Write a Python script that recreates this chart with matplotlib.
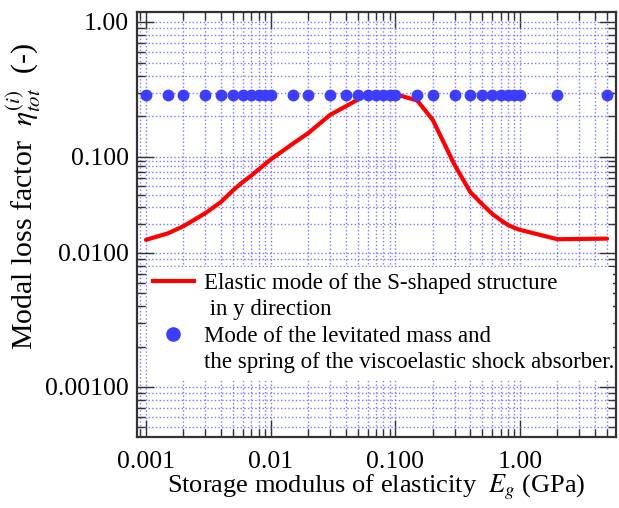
import numpy as np
import matplotlib
matplotlib.use("Agg")
import matplotlib.pyplot as plt
from matplotlib.ticker import LogLocator, NullFormatter, FixedLocator, FixedFormatter
from matplotlib.lines import Line2D

# ---------------- data ----------------
modulus_gpa = [0.001, 0.0015, 0.002, 0.003, 0.004, 0.005, 0.006, 0.007, 0.008, 0.009,
               0.01, 0.015, 0.02, 0.03, 0.04, 0.05, 0.06, 0.07, 0.08, 0.09,
               0.1, 0.15, 0.2, 0.3, 0.4, 0.5, 0.6, 0.7, 0.8, 0.9,
               1.0, 2.0, 5.0]

eta_elastic = [0.0137, 0.016, 0.019, 0.026, 0.034, 0.045, 0.055, 0.064, 0.074, 0.084,
               0.094, 0.125, 0.150, 0.205, 0.237, 0.266, 0.288, 0.292, 0.292, 0.292,
               0.292, 0.262, 0.188, 0.082, 0.043, 0.032, 0.0255, 0.022, 0.0196, 0.0183,
               0.0174, 0.0139, 0.0141]

eta_levitated = [0.29, 0.29, 0.29, 0.29, 0.29, 0.29, 0.29, 0.29, 0.29, 0.29,
                 0.29, 0.29, 0.29, 0.29, 0.29, 0.29, 0.29, 0.29, 0.29, 0.29,
                 0.29, 0.29, 0.29, 0.29, 0.29, 0.29, 0.29, 0.29, 0.29, 0.29,
                 0.29, 0.29, 0.29]

x_ticks = [0.001, 0.01, 0.1, 1.0]
x_tick_labels = ["0.001", "0.01", "0.100", "1.00"]
y_ticks = [0.001, 0.01, 0.1, 1.0]
y_tick_labels = ["0.00100", "0.0100", "0.100", "1.00"]

label_elastic_1 = "Elastic mode of the S-shaped structure"
label_elastic_2 = " in y direction"
label_lev_1 = "Mode of the levitated mass and"
label_lev_2 = "the spring of the viscoelastic shock absorber."

xlabel = r"Storage modulus of elasticity  $E_g$ (GPa)"
ylabel = r"Modal loss factor  $\eta_{tot}^{(i)}$  (-)"

# ---------------- style ----------------
plt.rcParams["font.family"] = ["Liberation Serif", "DejaVu Serif"]
plt.rcParams["mathtext.fontset"] = "stix"

# the original y axis has unequal decade heights; reproduce with a piecewise log scale
KNOT_LOG = [-4, -3, -2, -1, 0, 1]
KNOT_POS = [-84, 50, 184, 280, 415, 550]


def fwd(y):
    y = np.clip(np.asarray(y, dtype=float), 1e-12, None)
    return np.interp(np.log10(y), KNOT_LOG, KNOT_POS)


def inv(u):
    return 10.0 ** np.interp(np.asarray(u, dtype=float), KNOT_POS, KNOT_LOG)


fig = plt.figure(figsize=(6.19, 5.08), dpi=100)
ax = fig.add_axes([0.2213, 0.1398, 0.7739, 0.8366])

ax.set_xscale("log")
ax.set_yscale("function", functions=(fwd, inv))
ax.set_xlim(0.000847, 5.9)
ax.set_ylim(0.000423, 1.186)

grid_color = "#7878ff"
ax.set_axisbelow(True)
ax.grid(True, which="both", color=grid_color, linestyle=":", linewidth=1.0)

ax.plot(modulus_gpa, eta_elastic, color="#ff0000", lw=3.0, zorder=3,
        solid_capstyle="round")
ax.plot(modulus_gpa, eta_levitated, linestyle="none", marker="o", ms=7.5,
        color="#3d3dff", zorder=4)

ax.xaxis.set_major_locator(FixedLocator(x_ticks))
ax.xaxis.set_major_formatter(FixedFormatter(x_tick_labels))
ax.xaxis.set_minor_locator(LogLocator(base=10, subs=np.arange(2, 10)))
ax.xaxis.set_minor_formatter(NullFormatter())

ax.yaxis.set_major_locator(FixedLocator(y_ticks))
ax.yaxis.set_major_formatter(FixedFormatter(y_tick_labels))
ax.yaxis.set_minor_locator(LogLocator(base=10, subs=np.arange(2, 10)))
ax.yaxis.set_minor_formatter(NullFormatter())

ax.tick_params(which="both", direction="in", top=True, right=True,
               color="#333333", width=1.0)
ax.tick_params(which="major", length=12, labelsize=18.5)
ax.tick_params(axis="x", which="major", pad=10)
ax.tick_params(axis="y", which="major", pad=6)
ax.tick_params(which="minor", length=6)

for sp in ax.spines.values():
    sp.set_color("#333333")
    sp.set_linewidth(1.6)

ax.set_xlabel(xlabel, fontsize=19, labelpad=0)
ax.set_ylabel(ylabel, fontsize=21.5)
ax.yaxis.set_label_coords(-0.197, 0.567)

blank = Line2D([], [], linestyle="none")
handles = [
    Line2D([], [], color="#ff0000", lw=3.0),
    blank,
    Line2D([], [], linestyle="none", marker="o", ms=9.5, color="#3d3dff"),
    blank,
]
labels = [label_elastic_1, label_elastic_2, label_lev_1, label_lev_2]
leg = ax.legend(handles, labels, loc="upper left",
                bbox_to_anchor=(0.021, 0.39, 0.972, 0.01), mode="expand",
                fontsize=16.5, frameon=True, fancybox=False, framealpha=1.0,
                facecolor="white", edgecolor="none", borderpad=0.25,
                labelspacing=0.24, handlelength=1.8, handletextpad=0.45,
                borderaxespad=0)
leg.set_zorder(5)

fig.savefig("out.png", dpi=100)
